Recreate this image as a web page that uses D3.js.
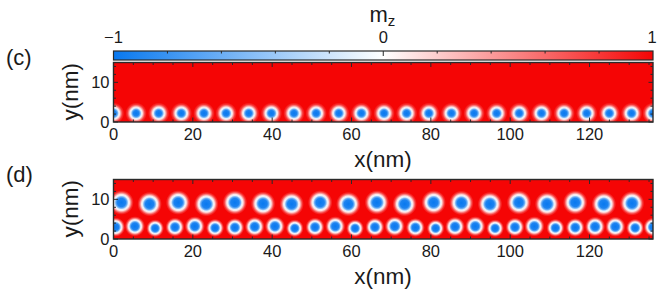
<!DOCTYPE html>
<html><head><meta charset="utf-8"><script src="https://cdn.jsdelivr.net/npm/d3@7"></script>
<style>html,body{margin:0;padding:0;background:#fff}svg{display:block}text{font-family:"Liberation Sans",Arial,sans-serif;fill:#1a1a1a}</style></head><body>
<script>
// Data (nm)
const xTicks=[0,20,40,60,80,100,120];
const yTicks=[0,10];
const colorTicks=[-1,0,1];
const cX=[0,5.7,11.4,17.1,22.8,28.4,34.1,39.8,45.5,51.1,56.8,62.5,68.2,73.9,79.5,85.2,90.9,96.6,102.3,107.9,113.6,119.3,125,130.6,136];
const cY=[2.2];
const cR=[2.7];
const dTopX=[2,9.1,16.3,23.4,30.6,37.7,44.9,52.1,59.2,66.4,73.4,80.7,87.7,94.9,102.2,109.3,116.4,123.6,130.7];
const dTopY=[9.2,8.8,9.2,8.8,9.2,8.9,8.8,9.2,8.8,9.2,8.8,9.2,9.1,8.8,9.2,8.8,9.2,8.8,9.0];
const dTopR=[3.1,3.1,3.1,3.1,3.1,3.1,3.1,3.1,3.1,3.1,3.1,3.1,3.1,3.1,3.1,3.1,3.1,3.1,3.1];
const dLowX=[0.5,5.4,10.5,15.5,20.5,25.6,30.6,35.6,40.7,45.7,50.8,55.9,60.9,65.9,70.9,76.1,81.2,86.1,91.2,96.2,101.2,106.1,111.4,116.4,121.4,126.5,131.5,136];
const dLowY=[3,3.2,2.7,3,3.2,2.8,2.9,3.1,3.2,2.7,3,3.2,2.7,3,3.2,2.9,2.7,3.1,3.2,2.7,3,3.2,2.8,2.9,3.1,3.1,2.8,3];
const dLowR=[2.45,2.55,2.25,2.4,2.55,2.3,2.4,2.5,2.55,2.25,2.4,2.55,2.25,2.4,2.55,2.4,2.25,2.5,2.55,2.25,2.4,2.55,2.3,2.4,2.55,2.55,2.3,2.4];
// Radial m_z profiles of a skyrmion: fraction of radius, m_z
const profileCR=[0,0.26,0.38,0.49,0.58,0.68,0.82,1];
const profileCM=[-1,-0.92,-0.6,-0.12,0.1,0.42,0.8,1];
const profileDR=[0,0.34,0.46,0.57,0.66,0.75,0.87,1];
const profileDM=[-1,-0.92,-0.6,-0.1,0.1,0.42,0.8,1];

const W=664,H=295,L=113.5,Rt=653;
const color=d3.scaleLinear().domain([-1,0,1]).range(["#0878ef","#ffffff","#f50505"]);
const x=d3.scaleLinear().domain([0,136]).range([L,Rt]);
const svg=d3.select("body").append("svg").attr("width",W).attr("height",H);
const defs=svg.append("defs");
function radial(id,rs,ms){
  const grad=defs.append("radialGradient").attr("id",id);
  rs.forEach((r,i)=>grad.append("stop").attr("offset",r).attr("stop-color",color(ms[i])));
}
radial("skc",profileCR,profileCM);
radial("skd",profileDR,profileDM);
const INK="#2a2a2a";

function panel(id,top,bottom,labelY,rows){
  const y=d3.scaleLinear().domain([0,15]).range([bottom,top]);
  const px=v=>x(v)-x(0);
  defs.append("clipPath").attr("id","clip"+id).append("rect").attr("x",L).attr("y",top).attr("width",Rt-L).attr("height",bottom-top);
  const g=svg.append("g");
  const f=g.append("g").attr("clip-path",`url(#clip${id})`);
  f.append("rect").attr("x",L).attr("y",top).attr("width",Rt-L).attr("height",bottom-top).attr("fill",color(1));
  rows.forEach(row=>{
    f.selectAll(null).data(row.xs).join("circle")
      .attr("cx",d=>x(d)).attr("cy",(d,i)=>y(row.ys[i%row.ys.length]))
      .attr("r",(d,i)=>px(row.rs[i%row.rs.length])).attr("fill",`url(#sk${id})`);
  });
  const minorX=d3.range(0,136,5), minorY=d3.range(0,15,2);
  const vx=(s,d,l,o,dir)=>s.attr("x1",x(d)).attr("x2",x(d)).attr("y1",o).attr("y2",o+dir*l);
  const hy=(s,d,l,o,dir)=>s.attr("y1",y(d)).attr("y2",y(d)).attr("x1",o).attr("x2",o+dir*l);
  const isMajX=d=>d%20===0, isMajY=d=>d%10===0;
  g.selectAll(null).data(minorX).join("line").attr("stroke",INK).each(function(d){vx(d3.select(this),d,isMajX(d)?4.5:2.5,bottom,-1)});
  g.selectAll(null).data(minorX).join("line").attr("stroke",INK).each(function(d){vx(d3.select(this),d,isMajX(d)?4.5:2.5,top,1)});
  g.selectAll(null).data(minorY).join("line").attr("stroke",INK).each(function(d){hy(d3.select(this),d,isMajY(d)?4.5:2.5,L,1)});
  g.selectAll(null).data(minorY).join("line").attr("stroke",INK).each(function(d){hy(d3.select(this),d,isMajY(d)?4.5:2.5,Rt,-1)});
  g.append("rect").attr("x",L).attr("y",top).attr("width",Rt-L).attr("height",bottom-top).attr("fill","none").attr("stroke",INK).attr("stroke-width",1.4);
  g.selectAll(null).data(xTicks).join("text").attr("x",d=>x(d)).attr("y",bottom+18).attr("text-anchor","middle").attr("font-size",16.5).text(d=>d);
  g.selectAll(null).data(yTicks).join("text").attr("x",L-4).attr("y",d=>y(d)+6).attr("text-anchor","end").attr("font-size",16.5).text(d=>d);
  g.append("text").attr("x",383).attr("y",bottom+45).attr("text-anchor","middle").attr("font-size",22.5).text("x(nm)");
  g.append("text").attr("transform",`translate(78,${(top+bottom)/2-0.5}) rotate(-90)`).attr("text-anchor","middle").attr("font-size",22.5).text("y(nm)");
  g.append("text").attr("x",6).attr("y",labelY).attr("font-size",22).text(`(${id})`);
}

// Colour bar
const cbTop=51,cbBot=60;
const lg=defs.append("linearGradient").attr("id","cb");
d3.range(-1,1.01,0.1).forEach(v=>lg.append("stop").attr("offset",(v+1)/2).attr("stop-color",color(v)));
svg.append("rect").attr("x",L).attr("y",cbTop).attr("width",Rt-L).attr("height",cbBot-cbTop).attr("fill","url(#cb)").attr("stroke",INK).attr("stroke-width",1.2);
const cs=d3.scaleLinear().domain([-1,1]).range([L,Rt]);
svg.selectAll(null).data(d3.range(-0.8,0.81,0.2)).join("line").attr("x1",d=>cs(d)).attr("x2",d=>cs(d)).attr("y1",cbTop).attr("y2",d=>cbTop+(Math.abs(d)<1e-6?5:2.5)).attr("stroke",INK);
const fmt=d=>d<0?"\u2212"+(-d):String(d);
svg.selectAll(null).data(colorTicks).join("text").attr("x",d=>cs(d)+(d===1?-1:0)).attr("y",42.5).attr("text-anchor","middle").attr("font-size",16.5).text(fmt);
const mz=svg.append("text").attr("x",369.5).attr("y",22).attr("font-size",22);
mz.append("tspan").text("m");
mz.append("tspan").attr("dy",3.5).attr("font-size",15).text("z");

panel("c",62.5,122,65,[{xs:cX,ys:cY,rs:cR}]);
panel("d",179.5,239,181.5,[{xs:dTopX,ys:dTopY,rs:dTopR},{xs:dLowX,ys:dLowY,rs:dLowR}]);
</script></body></html>
